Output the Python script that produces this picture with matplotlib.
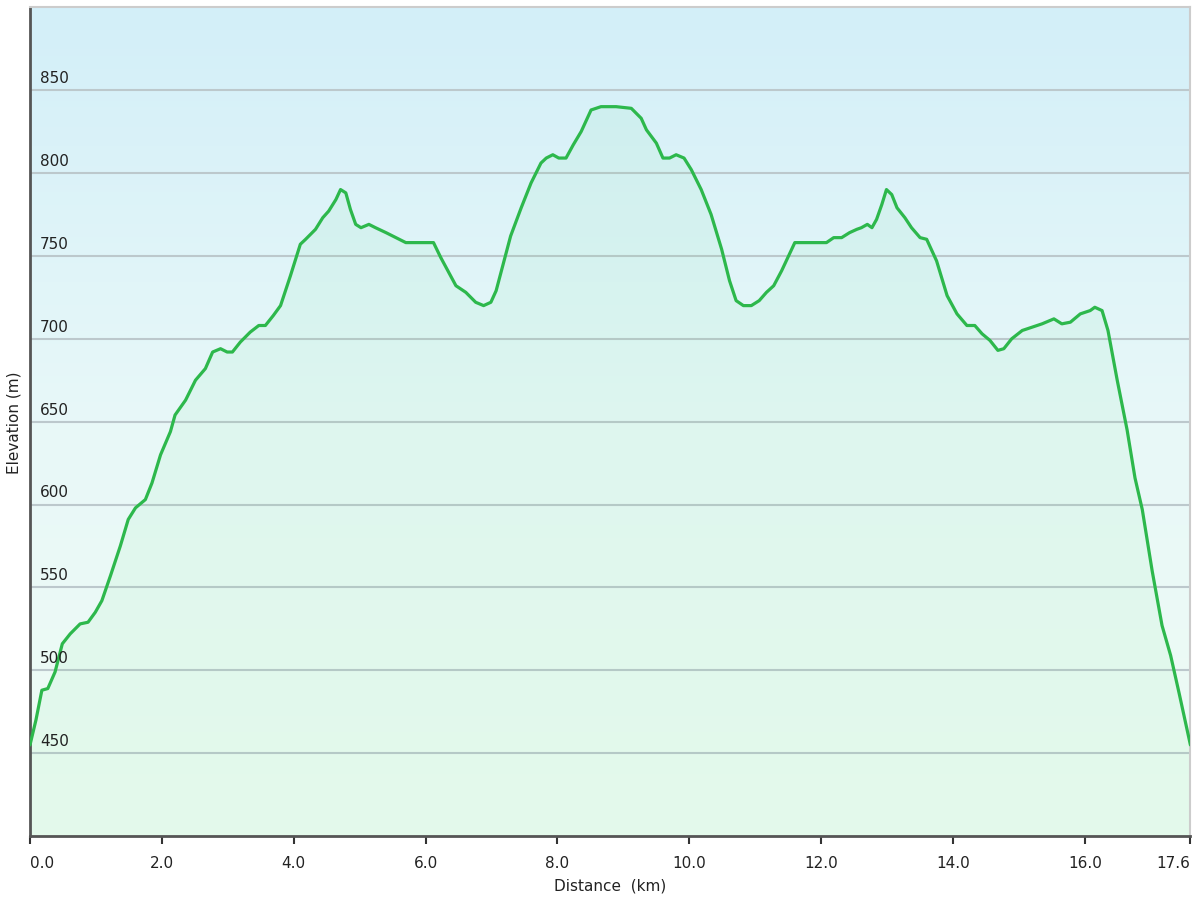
import numpy as np
import matplotlib
matplotlib.use("Agg")
import matplotlib.pyplot as plt
from matplotlib.colors import LinearSegmentedColormap

# Elevation profile (km, m)
distance_km = [
    0.00, 0.09, 0.18, 0.27, 0.38, 0.49, 0.61, 0.76, 0.88, 0.99, 1.09, 1.22,
    1.37, 1.49, 1.60, 1.75, 1.85, 1.98, 2.13, 2.20, 2.36, 2.51, 2.66, 2.77,
    2.89, 2.99, 3.07, 3.19, 3.34, 3.47, 3.57, 3.69, 3.80, 3.95, 4.10, 4.18,
    4.33, 4.44, 4.53, 4.64, 4.71, 4.79, 4.86, 4.94, 5.02, 5.14, 5.24, 5.40,
    5.55, 5.70, 5.93, 6.12, 6.23, 6.46, 6.61, 6.76, 6.88, 6.99, 7.07, 7.19,
    7.29, 7.45, 7.60, 7.75, 7.83, 7.93, 8.02, 8.13, 8.24, 8.36, 8.51, 8.66,
    8.89, 9.12, 9.27, 9.35, 9.50, 9.60, 9.70, 9.80, 9.92, 10.03, 10.18, 10.33,
    10.49, 10.61, 10.71, 10.82, 10.94, 11.06, 11.17, 11.28, 11.40, 11.60, 11.85,
    12.08, 12.19, 12.31, 12.43, 12.54, 12.61, 12.70, 12.77, 12.84, 12.92, 12.99,
    13.07, 13.15, 13.27, 13.37, 13.50, 13.60, 13.75, 13.91, 14.06, 14.21, 14.33,
    14.44, 14.56, 14.68, 14.77, 14.89, 15.05, 15.20, 15.35, 15.47, 15.53, 15.65,
    15.78, 15.93, 16.08, 16.15, 16.26, 16.35, 16.49, 16.64, 16.76, 16.87, 17.02,
    17.17, 17.30, 17.43, 17.60,
]
elevation_m = [
    455, 470, 488, 489, 499, 516, 522, 528, 529, 535, 542, 557,
    575, 591, 598, 603, 613, 630, 644, 654, 663, 675, 682, 692,
    694, 692, 692, 698, 704, 708, 708, 714, 720, 738, 757, 760,
    766, 773, 777, 784, 790, 788, 778, 769, 767, 769, 767, 764,
    761, 758, 758, 758, 749, 732, 728, 722, 720, 722, 729, 747,
    762, 779, 794, 806, 809, 811, 809, 809, 817, 825, 838, 840,
    840, 839, 833, 826, 818, 809, 809, 811, 809, 802, 790, 775,
    754, 735, 723, 720, 720, 723, 728, 732, 741, 758, 758,
    758, 761, 761, 764, 766, 767, 769, 767, 772, 781, 790,
    787, 779, 773, 767, 761, 760, 747, 726, 715, 708, 708,
    703, 699, 693, 694, 700, 705, 707, 709, 711, 712, 709,
    710, 715, 717, 719, 717, 705, 675, 645, 616, 597, 560,
    527, 509, 486, 455,
]

x_ticks = [0.0, 2.0, 4.0, 6.0, 8.0, 10.0, 12.0, 14.0, 16.0, 17.6]
y_ticks = [450, 500, 550, 600, 650, 700, 750, 800, 850]

fig = plt.figure(figsize=(12, 9), dpi=100)
ax = fig.add_axes([0.025, 0.071, 0.967, 0.921])

x_min, x_max = 0.0, 17.6
y_min, y_max = 400, 900

# background gradient, light blue at the top to pale green at the bottom
bg = LinearSegmentedColormap.from_list("bg", ["#effcf4", "#e8f8f8", "#d3eff9"])
grad = np.linspace(0, 1, 256).reshape(-1, 1)
ax.imshow(grad, cmap=bg, origin="lower", aspect="auto",
          extent=[x_min, x_max, y_min, y_max], zorder=0)

for y in y_ticks:
    ax.axhline(y, color="#bcc8cc", lw=1.5, zorder=1)
    ax.text(0.15, y + 2.5, f"{y}", fontsize=11, color="#222222",
            ha="left", va="bottom", zorder=4)

ax.fill_between(distance_km, elevation_m, y_min, color="#5ee07a", alpha=0.07, lw=0, zorder=2)
ax.plot(distance_km, elevation_m, color="#2db84c", lw=2.3, zorder=3,
        solid_joinstyle="round", solid_capstyle="round")

ax.set_xlim(x_min, x_max)
ax.set_ylim(y_min, y_max)
ax.set_xticks(x_ticks)
labels = ax.set_xticklabels([f"{v:.1f}" for v in x_ticks], fontsize=11, color="#222222")
labels[0].set_horizontalalignment("left")
labels[-1].set_horizontalalignment("right")
ax.set_yticks([])
ax.tick_params(axis="x", direction="out", length=6, width=1.5, color="#333333", pad=8)

for side in ("left", "bottom"):
    ax.spines[side].set_color("#555555")
    ax.spines[side].set_linewidth(2)
for side in ("top", "right"):
    ax.spines[side].set_color("#cccccc")
    ax.spines[side].set_linewidth(1.5)

ax.set_xlabel("Distance  (km)", fontsize=11, color="#222222", labelpad=6)
fig.text(0.012, 0.53, "Elevation (m)", rotation=90, fontsize=11,
         color="#222222", ha="center", va="center")

fig.savefig("out.png", dpi=100)
